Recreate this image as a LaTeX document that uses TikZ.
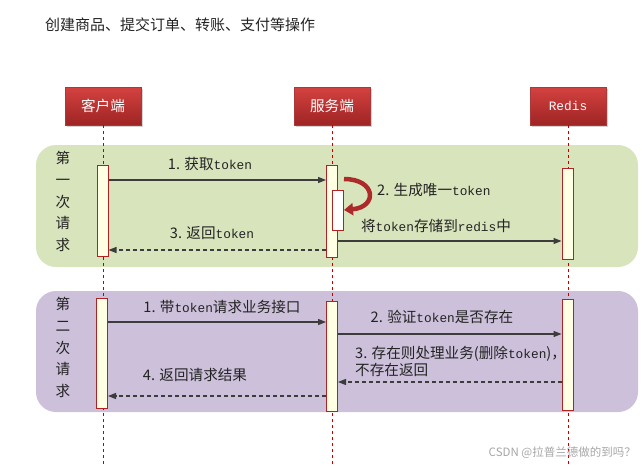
\documentclass[tikz,border=0pt]{standalone}
\usepackage{fontspec}
\setmainfont{Noto Sans CJK SC}
\newfontfamily\monofont{Liberation Mono}
\usepackage{tikz}
\usetikzlibrary{arrows.meta, positioning, shadows}
\definecolor{headtop}{RGB}{212,66,64}
\definecolor{headbot}{RGB}{158,36,36}
\definecolor{lifered}{RGB}{192,0,0}
\definecolor{barfill}{RGB}{255,255,228}
\definecolor{barline}{RGB}{178,34,34}
\definecolor{firstbg}{RGB}{216,228,188}
\definecolor{secondbg}{RGB}{204,192,218}
\definecolor{msggray}{RGB}{60,60,60}
\definecolor{loopred}{RGB}{172,42,42}
\definecolor{txtgray}{RGB}{35,35,35}
\newcommand{\tk}[1]{{\fontsize{12.8}{14}\monofont #1}}

\begin{document}
\begin{tikzpicture}[x=1pt, y=-1pt, font=\fontsize{14.6}{17}\selectfont,
    head/.style={minimum width=76pt, minimum height=38pt, inner sep=0pt, text=white,
        top color=headtop, bottom color=headbot, draw=headbot!90!white, line width=0.3pt,
        drop shadow={shadow xshift=1.5pt, shadow yshift=-2pt, opacity=0.35}},
    life/.style={lifered, line width=1pt, dash pattern=on 3pt off 3pt},
    bar/.style={draw=barline, fill=barfill, line width=1pt, minimum width=11pt, inner sep=0pt},
    msg/.style={msggray, line width=1.2pt, -{Triangle[length=8pt, width=6pt]}},
    reply/.style={msg, dash pattern=on 4pt off 3pt},
    lbl/.style={text=txtgray, inner sep=1pt},
    side/.style={text=txtgray, inner sep=0pt, align=center, font=\fontsize{14.6}{21.8}\selectfont}]
    \useasboundingbox (0,0) rectangle (642,466);

    % title
    \node[lbl, anchor=west, font=\fontsize{15}{17}\selectfont] (title) at (44,25) {创建商品、提交订单、转账、支付等操作};

    % two rounds
    \fill[firstbg, rounded corners=20pt] (36,145) rectangle (638,267);
    \fill[secondbg, rounded corners=20pt] (36,291) rectangle (638,412);
    \node[side] (round1) at (63,201.5) {第\\一\\次\\请\\求};
    \node[side] (round2) at (63,347.5) {第\\二\\次\\请\\求};

    % participants
    \node[head] (client) at (103,106) {客户端};
    \node[head] (server) at (332,106) {服务端};
    \node[head] (redis) at (568,106) {\tk{Redis}};
    \foreach \p in {client, server, redis}
        \draw[life] (\p.south) -- (\p.south |- 0,466);

    % activation bars
    \node[bar, minimum height=91pt] (c1) at (102.5,210.5) {};
    \node[bar, minimum height=92pt] (s1) at (332,211) {};
    \node[bar, minimum height=40pt, fill=white] (s1in) at (338,210) {};
    \node[bar, minimum height=91pt] (r1) at (567.5,213.5) {};
    \node[bar, minimum height=110pt] (c2) at (102,353) {};
    \node[bar, minimum height=110pt] (s2) at (332,356) {};
    \node[bar, minimum height=111pt] (r2) at (567.5,354.5) {};

    % first round
    \draw[msg] (c1.east |- 0,180) -- (s1.west |- 0,180);
    \node[lbl] (get) at (210,164) {1. 获取\tk{token}};
    \coordinate (loopstart) at (344,179);
    \draw[loopred, line width=4.5pt, -{Triangle[length=9pt, width=12pt]}]
        (loopstart) .. controls (376,179) and (378,207) .. (s1in.east);
    \node[lbl, anchor=west] (make) at (376,190) {2. 生成唯一\tk{token}};
    \draw[msg] (s1.east |- 0,241) -- (r1.west |- 0,241);
    \node[lbl] (store) at (436,226) {将\tk{token}存储到\tk{redis}中};
    \draw[reply] (s1.west |- 0,250) -- (c1.east |- 0,250);
    \node[lbl] (back) at (212,233) {3. 返回\tk{token}};

    % second round
    \draw[msg] (c2.east |- 0,322) -- (s2.west |- 0,322);
    \node[lbl] (call) at (222,307) {1. 带\tk{token}请求业务接口};
    \draw[msg] (s2.east |- 0,334) -- (r2.west |- 0,334);
    \node[lbl] (check) at (442,317) {2. 验证\tk{token}是否存在};
    \draw[reply] (r2.west |- 0,382) -- (s2.east |- 0,382);
    \node[lbl, anchor=west, align=left, font=\fontsize{14.6}{17}\selectfont] (handle) at (354,361.5)
        {3. 存在则处理业务(删除\tk{token})，\\不存在返回};
    \draw[reply] (s2.west |- 0,396) -- (c2.east |- 0,396);
    \node[lbl] (result) at (195,375) {4. 返回请求结果};

    \node[anchor=east, text=black!35, inner sep=0pt, font=\fontsize{11.5}{13}\selectfont] (mark) at (636,453)
        {CSDN @拉普兰德做的到吗？};
\end{tikzpicture}
\end{document}
